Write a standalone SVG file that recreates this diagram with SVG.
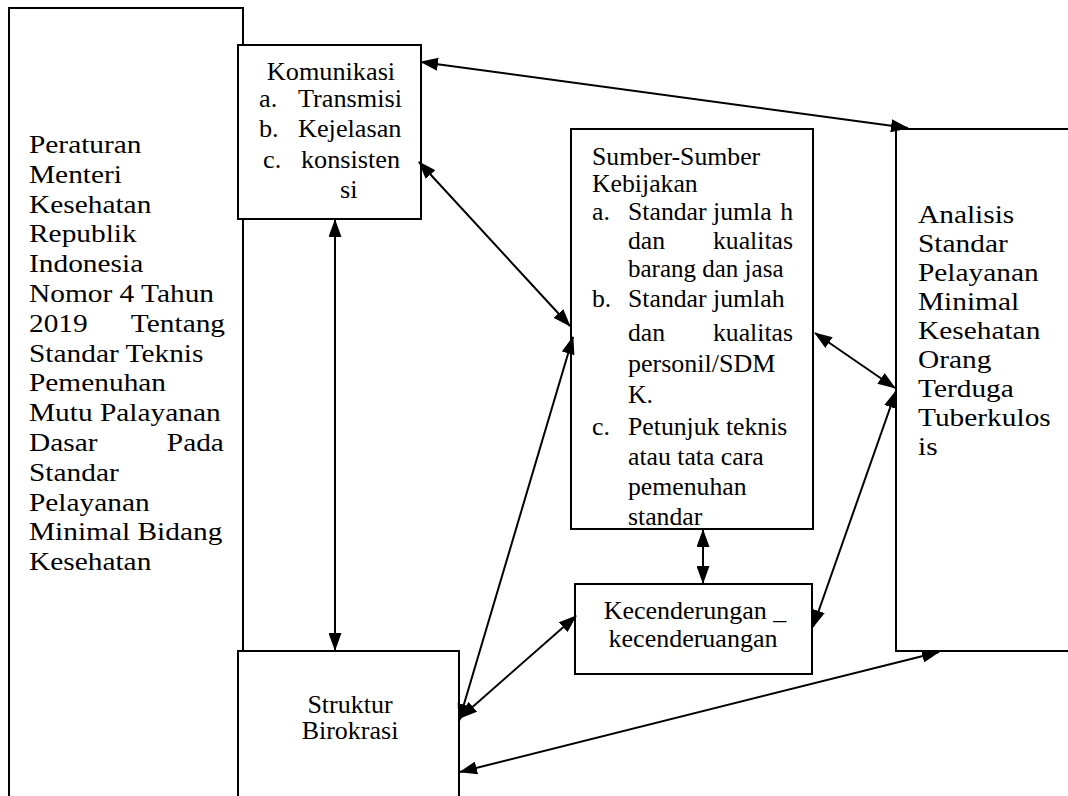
<svg xmlns="http://www.w3.org/2000/svg" width="1068" height="796" viewBox="0 0 1068 796">
<style>
.box{fill:#fff;stroke:#000;stroke-width:2}
.t text{font-family:'Liberation Serif','Times New Roman','DejaVu Serif',serif;font-size:25px;fill:#000}
.t.big text{font-size:26px}
.m{text-anchor:middle}
.e{text-anchor:end}
.c{fill:none;stroke:#000;stroke-width:2;marker-start:url(#ah);marker-end:url(#ah)}
</style>
<defs>
<marker id="ah" viewBox="0 0 18 13" refX="17" refY="6.5" markerWidth="18" markerHeight="13" markerUnits="userSpaceOnUse" orient="auto-start-reverse">
<path d="M0,0 L18,6.5 L0,13 z" fill="#000"/>
</marker>
</defs>
<rect width="1068" height="796" fill="#fff"/>

<g id="peraturan">
<rect class="box" x="9" y="8" width="234" height="800"/>
<g transform="translate(29,0) scale(1.13,1)" class="t big">
<text x="0" y="153">Peraturan</text>
<text x="0" y="182.8">Menteri</text>
<text x="0" y="212.6">Kesehatan</text>
<text x="0" y="242.4">Republik</text>
<text x="0" y="272.2">Indonesia</text>
<text x="0" y="302">Nomor 4 Tahun</text>
<text x="0" y="331.8">2019</text><text class="e" x="173.5" y="331.8">Tentang</text>
<text x="0" y="361.6">Standar Teknis</text>
<text x="0" y="391.4">Pemenuhan</text>
<text x="0" y="421.2">Mutu Palayanan</text>
<text x="0" y="451">Dasar</text><text class="e" x="172.5" y="451">Pada</text>
<text x="0" y="480.8">Standar</text>
<text x="0" y="510.6">Pelayanan</text>
<text x="0" y="540.4">Minimal Bidang</text>
<text x="0" y="570.2">Kesehatan</text>
</g>
</g>

<g id="komunikasi">
<rect class="box" x="238" y="45" width="183" height="174"/>
<g class="t">
<text class="m" transform="translate(331,80) scale(1.05,1)">Komunikasi</text>
<text transform="translate(259,107) scale(1.05,1)">a.</text>
<text transform="translate(298,107) scale(1.05,1)">Transmisi</text>
<text transform="translate(259,137) scale(1.05,1)">b.</text>
<text transform="translate(298,137) scale(1.05,1)">Kejelasan</text>
<text transform="translate(263,168) scale(1.05,1)">c.</text>
<text transform="translate(301,168) scale(1.05,1)">konsisten</text>
<text transform="translate(340,198) scale(1.05,1)">si</text>
</g>
</g>

<g id="struktur">
<rect class="box" x="238" y="651" width="221" height="160"/>
<g class="t">
<text class="m" transform="translate(350,713) scale(1.04,1)">Struktur</text>
<text class="m" transform="translate(350,739) scale(1.04,1)">Birokrasi</text>
</g>
</g>

<g id="sumber">
<rect class="box" x="571" y="129" width="242" height="400"/>
<g class="t">
<text transform="translate(592,165) scale(1.03,1)">Sumber-Sumber</text>
<text transform="translate(592,192) scale(1.03,1)">Kebijakan</text>
<text transform="translate(592,220) scale(1.03,1)">a.</text>
<text transform="translate(628,220) scale(1.03,1)">Standar jumla</text>
<text class="e" transform="translate(793,220) scale(1.03,1)">h</text>
<text transform="translate(628,249) scale(1.03,1)">dan</text>
<text class="e" transform="translate(793,249) scale(1.03,1)">kualitas</text>
<text transform="translate(628,277) scale(1.0,1)">barang dan jasa</text>
<text transform="translate(592,307) scale(1.03,1)">b.</text>
<text transform="translate(628,307) scale(1.03,1)">Standar jumlah</text>
<text transform="translate(628,341) scale(1.03,1)">dan</text>
<text class="e" transform="translate(793,341) scale(1.03,1)">kualitas</text>
<text transform="translate(628,372) scale(1.04,1)">personil/SDM</text>
<text transform="translate(628,403) scale(1.03,1)">K.</text>
<text transform="translate(592,435) scale(1.03,1)">c.</text>
<text transform="translate(628,435) scale(1.03,1)">Petunjuk teknis</text>
<text transform="translate(628,465) scale(1.03,1)">atau tata cara</text>
<text transform="translate(628,495) scale(1.03,1)">pemenuhan</text>
<text transform="translate(628,525) scale(1.03,1)">standar</text>
</g>
</g>

<g id="kecenderungan">
<rect class="box" x="575" y="584" width="237" height="90"/>
<g class="t">
<text class="m" transform="translate(695,619) scale(1.04,1)">Kecenderungan _</text>
<text class="m" transform="translate(693,647) scale(1.04,1)">kecenderuangan</text>
</g>
</g>

<g id="analisis">
<rect class="box" x="896" y="129" width="200" height="522"/>
<g transform="translate(918,0) scale(1.13,1)" class="t big">
<text x="0" y="223">Analisis</text>
<text x="0" y="252">Standar</text>
<text x="0" y="281">Pelayanan</text>
<text x="0" y="310">Minimal</text>
<text x="0" y="339">Kesehatan</text>
<text x="0" y="368">Orang</text>
<text x="0" y="397">Terduga</text>
<text x="0" y="426">Tuberkulos</text>
<text x="0" y="455">is</text>
</g>
</g>

<g id="connectors">
<line class="c" x1="421" y1="62" x2="908" y2="128"/>
<line class="c" x1="419" y1="162" x2="570" y2="326"/>
<line class="c" x1="335" y1="220" x2="335" y2="650"/>
<line class="c" x1="703" y1="530" x2="703" y2="583"/>
<line class="c" x1="815" y1="333" x2="895" y2="388"/>
<line class="c" x1="813" y1="627" x2="896" y2="391"/>
<line class="c" x1="459" y1="721" x2="573" y2="337"/>
<line class="c" x1="460" y1="718" x2="576" y2="616"/>
<line class="c" x1="460" y1="772" x2="939" y2="652"/>
</g>
</svg>
